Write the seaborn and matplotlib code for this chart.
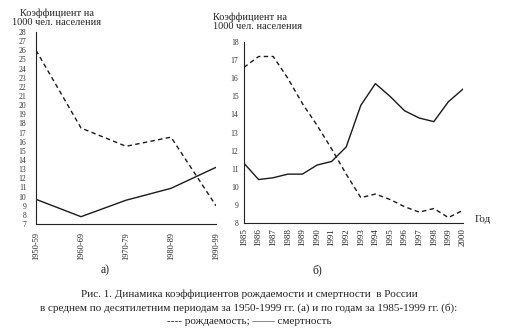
import matplotlib
matplotlib.use("Agg")
import matplotlib.pyplot as plt
import seaborn as sns
import pandas as pd

# ---- data ----
periods = ['1950-59', '1960-69', '1970-79', '1980-89', '1990-99']
birth_a = [26.0, 17.5, 15.5, 16.5, 9.0]
death_a = [9.7, 7.8, 9.6, 10.9, 13.2]

years = [1985, 1986, 1987, 1988, 1989, 1990, 1991, 1992,
         1993, 1994, 1995, 1996, 1997, 1998, 1999, 2000]
birth_b = [16.6, 17.2, 17.2, 16.0, 14.6, 13.4, 12.1, 10.7,
           9.4, 9.6, 9.3, 8.9, 8.6, 8.8, 8.3, 8.7]
death_b = [11.3, 10.4, 10.5, 10.7, 10.7, 11.2, 11.4, 12.2,
           14.5, 15.7, 15.0, 14.2, 13.8, 13.6, 14.7, 15.4]

yticks_a = list(range(7, 29))
yticks_b = list(range(8, 19))

ylabel_text = "Коэффициент на\n1000 чел. населения"
caption = ["Рис. 1. Динамика коэффициентов рождаемости и смертности  в России",
           "в среднем по десятилетним периодам за 1950-1999 гг. (а) и по годам за 1985-1999 гг. (б):",
           "---- рождаемость; —— смертность"]

sns.set_style("white")
plt.rcParams['font.family'] = ['Liberation Serif', 'DejaVu Serif']

W, H = 507, 330
fig = plt.figure(figsize=(W / 100, H / 100), dpi=100)

def ax_rect(x0, x1, ytop, ybot):
    return [x0 / W, 1 - ybot / H, (x1 - x0) / W, (ybot - ytop) / H]

line_color = "#1a1a1a"
dash = (0, (3.2, 2.4))

# ---- left chart (a) ----
axa = fig.add_axes(ax_rect(36, 216, 32, 224))
dfa = pd.DataFrame({"period": periods, "birth": birth_a, "death": death_a})
sns.lineplot(data=dfa, x="period", y="birth", ax=axa, color=line_color,
             linewidth=1.0, linestyle=dash, sort=False)
sns.lineplot(data=dfa, x="period", y="death", ax=axa, color=line_color,
             linewidth=1.0, sort=False)
axa.set_xlim(0, len(periods) - 1)
axa.set_ylim(7, 28)
axa.set_yticks(yticks_a)
axa.set_yticklabels([str(v) for v in yticks_a], fontsize=5.5, color="#333333")
axa.set_xticks(range(len(periods)))
axa.set_xticklabels(periods, rotation=90, fontsize=6, color="#222222")
axa.tick_params(axis='y', direction='inout', length=4, width=0.8, pad=5)
axa.tick_params(axis='x', direction='out', length=4, width=0.8, pad=2)
axa.set_xlabel("")
axa.set_ylabel("")
for s in ['top', 'right']:
    axa.spines[s].set_visible(False)
for s in ['left', 'bottom']:
    axa.spines[s].set_color("#222222")
    axa.spines[s].set_linewidth(0.8)
axa.set_facecolor("none")

# ---- right chart (b) ----
axb = fig.add_axes(ax_rect(244, 463, 42, 223))
dfb = pd.DataFrame({"year": years, "birth": birth_b, "death": death_b})
sns.lineplot(data=dfb, x="year", y="birth", ax=axb, color=line_color,
             linewidth=1.0, linestyle=dash)
sns.lineplot(data=dfb, x="year", y="death", ax=axb, color=line_color,
             linewidth=1.0)
axb.set_xlim(years[0], years[-1])
axb.set_ylim(8, 18)
axb.set_yticks(yticks_b)
axb.set_yticklabels([str(v) for v in yticks_b], fontsize=5.5, color="#333333")
axb.set_xticks(years)
axb.set_xticklabels([str(y) for y in years], rotation=90, fontsize=6.5, color="#222222")
axb.tick_params(axis='y', direction='out', length=2.5, width=0.8, pad=1.5)
axb.tick_params(axis='x', direction='inout', length=4, width=0.8, pad=2)
axb.set_xlabel("")
axb.set_ylabel("")
for s in ['top', 'right']:
    axb.spines[s].set_visible(False)
for s in ['left', 'bottom']:
    axb.spines[s].set_color("#222222")
    axb.spines[s].set_linewidth(0.8)
axb.set_facecolor("none")

# ---- texts ----
fig.text(57 / W, 1 - 18 / H, ylabel_text, ha='center', va='center',
         fontsize=7.5, linespacing=0.95, color="#222222")
fig.text(213 / W, 1 - 21.5 / H, ylabel_text, ha='left', va='center',
         fontsize=7.5, linespacing=0.95, color="#222222")
fig.text(483 / W, 1 - 219 / H, "Год", ha='center', va='center',
         fontsize=8, color="#222222")
fig.text(105 / W, 1 - 270 / H, "а)", ha='center', va='center',
         fontsize=8.5, color="#222222")
fig.text(317 / W, 1 - 270 / H, "б)", ha='center', va='center',
         fontsize=8.5, color="#222222")
for yy, line in zip([294, 308, 321], caption):
    fig.text(249 / W, 1 - yy / H, line, ha='center', va='center',
             fontsize=8, color="#222222")

fig.savefig("out.png", dpi=100)
